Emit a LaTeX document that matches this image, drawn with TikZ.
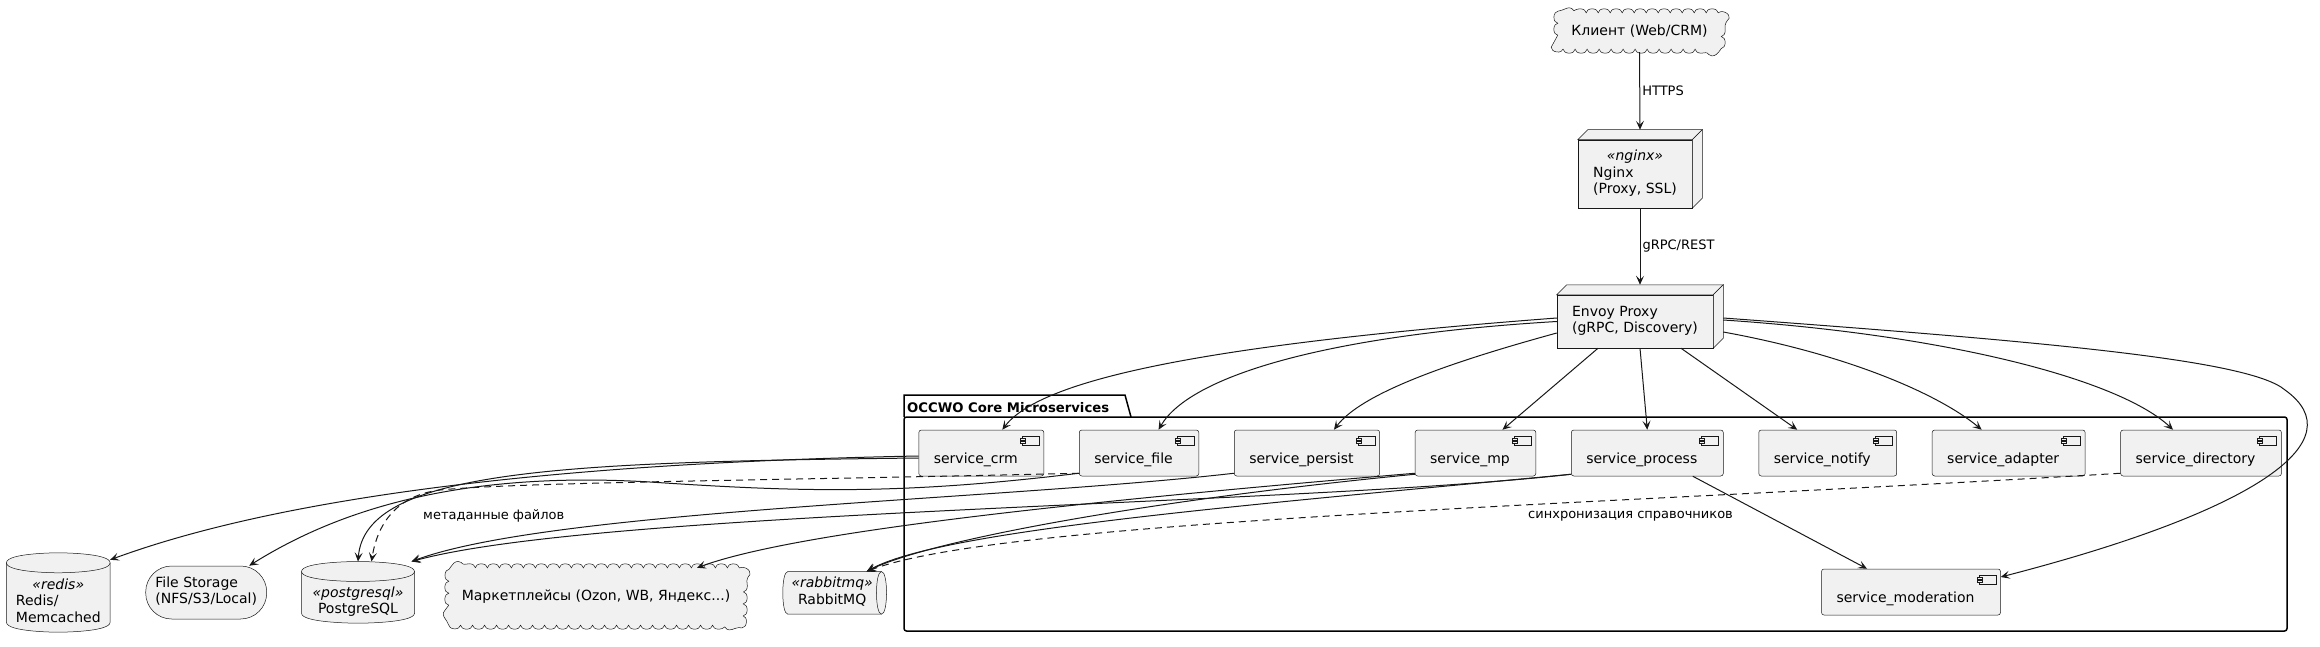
\documentclass[tikz,border=0pt]{standalone}
\usepackage{fontspec}
\setmainfont{DejaVu Sans}
\usepackage{tikz}
\usetikzlibrary{arrows.meta,calc,positioning,decorations.pathmorphing}
\definecolor{umlfill}{HTML}{F1F1F1}
\definecolor{umlline}{HTML}{181818}
\pgfdeclarelayer{bg}
\pgfsetlayers{bg,main}
\tikzset{
  txt/.style={font=\fontsize{14}{16.3}\selectfont},
  lbl/.style={font=\fontsize{13}{15}\selectfont, inner sep=2pt},
  shapeline/.style={draw=umlline, line width=0.5pt, fill=umlfill},
  comp/.style={shapeline, txt, rounded corners=2.5pt, minimum height=46pt, inner xsep=15pt,
    text height=23pt, text depth=3pt, execute at end node={\hspace*{11pt}}},
  boxnode/.style={shapeline, txt, inner sep=0pt},
  dbnode/.style={txt, inner sep=0pt},
  storenode/.style={shapeline, txt, inner sep=0pt, rounded corners=26pt},
  cloudnode/.style={txt, inner sep=0pt},
  puffs/.style={shapeline, decorate, decoration={bumps, segment length=24pt, amplitude=4pt}},
  pkgline/.style={draw=black, line width=1.5pt},
  link/.style={draw=umlline, line width=1pt, -{Stealth[length=9pt,width=8pt,inset=4pt]}},
  dlink/.style={link, dash pattern=on 7pt off 5pt}
}

\begin{document}
\begin{tikzpicture}[x=1pt,y=-1pt]
\useasboundingbox (0,0) rectangle (2320,647);

% package
\draw[pkgline] (904,417) -- (904,395) -- (1125,395) -- (1131,417);
\draw[pkgline, rounded corners=2.5pt] (904,417) rectangle (2287,631);
\node[anchor=base west, inner sep=0pt, font=\fontsize{13.2}{15}\selectfont\bfseries] (pkgname) at (907,412) {OCCWO Core Microservices};

% entry
\node[cloudnode, minimum width=163pt, minimum height=36pt] (client) at (1639.5,31) {Клиент (Web/CRM)};
\node[boxnode, minimum width=114pt, minimum height=68pt] (ngx) at (1635,174)
  {\begin{tabular}{@{}l@{}}\multicolumn{1}{@{}c@{}}{\textit{«nginx»}}\\Nginx\\(Proxy, SSL)\end{tabular}};
\node[boxnode, minimum width=156pt, minimum height=53pt] (envoy) at (1635,321.5)
  {\begin{tabular}{@{}l@{}}Envoy Proxy\\(gRPC, Discovery)\end{tabular}};

\foreach \n in {ngx,envoy}
  {
    \filldraw[shapeline] (\n.north west) -- ++(10,-10) -- ($(\n.north east)+(10,-10)$) -- (\n.north east) -- cycle;
    \filldraw[shapeline] (\n.north east) -- ($(\n.north east)+(10,-10)$) -- ($(\n.south east)+(10,-10)$) -- (\n.south east) -- cycle;
  }

% services
\node[comp] (crm) at (981.3,453) {service\_crm};
\node[comp, right=35pt of crm] (file) {service\_file};
\node[comp, right=35pt of file] (persist) {service\_persist};
\node[comp, right=35pt of persist] (mp) {service\_mp};
\node[comp, right=35pt of mp] (process) {service\_process};
\node[comp, right=35pt of process] (notify) {service\_notify};
\node[comp, right=35pt of notify] (adapter) {service\_adapter};
\node[comp, right=35pt of adapter] (directory) {service\_directory};
\node[comp] (moderation) at (1911,592) {service\_moderation};

\foreach \s in {crm,file,persist,mp,process,notify,adapter,directory,moderation}
  {
    \filldraw[shapeline] ($(\s.north east)+(-22,6)$) rectangle ($(\s.north east)+(-5,15)$);
    \filldraw[shapeline] ($(\s.north east)+(-24,8)$) rectangle ($(\s.north east)+(-19,10)$);
    \filldraw[shapeline] ($(\s.north east)+(-24,11.3)$) rectangle ($(\s.north east)+(-19,13.3)$);
  }

% storage and external
\node[dbnode, minimum width=103.3pt, minimum height=59pt] (redis) at (58.3,602.5)
  {\begin{tabular}{@{}l@{}}\multicolumn{1}{@{}c@{}}{\textit{«redis»}}\\Redis/\\Memcached\end{tabular}};
\node[storenode, minimum width=121pt, minimum height=53pt] (fs) at (206.2,592.5)
  {\begin{tabular}{@{}l@{}}File Storage\\(NFS/S3/Local)\end{tabular}};
\node[dbnode, minimum width=112.6pt, minimum height=41.3pt] (pg) at (358,602.35)
  {\begin{tabular}{@{}c@{}}\textit{«postgresql»}\\PostgreSQL\end{tabular}};
\node[cloudnode, minimum width=294pt, minimum height=57pt] (mkt) at (596,596.5)
  {Маркетплейсы (Ozon, WB, Яндекс...)};
\node[dbnode, minimum width=98.3pt, minimum height=42.3pt] (rmq) at (832.15,592.85)
  {\begin{tabular}{@{}c@{}}\textit{«rabbitmq»}\\RabbitMQ\end{tabular}};

\begin{pgfonlayer}{bg}
\foreach \n/\r in {client/14,mkt/20}
  {
    \filldraw[puffs] ($(\n.south west)+(0,-\r)$) -- ($(\n.north west)+(0,\r)$) .. controls (\n.north west) .. ($(\n.north west)+(\r,0)$)
      -- ($(\n.north east)+(-\r,0)$) .. controls (\n.north east) .. ($(\n.north east)+(0,\r)$)
      -- ($(\n.south east)+(0,-\r)$) .. controls (\n.south east) .. ($(\n.south east)+(-\r,0)$)
      -- ($(\n.south west)+(\r,0)$) .. controls (\n.south west) .. ($(\n.south west)+(0,-\r)$);
  }
\foreach \n in {redis,pg}
  {
    \filldraw[shapeline] ($(\n.north west)+(0,-10)$) .. controls ($(\n.north west)+(0,-20)$) and ($(\n.north)+(0,-20)$) .. ($(\n.north)+(0,-20)$)
      .. controls ($(\n.north)+(0,-20)$) and ($(\n.north east)+(0,-20)$) .. ($(\n.north east)+(0,-10)$)
      -- ($(\n.south east)+(0,-10)$) .. controls (\n.south east) and (\n.south) .. (\n.south)
      .. controls (\n.south) and (\n.south west) .. ($(\n.south west)+(0,-10)$) -- cycle;
    \draw[shapeline, fill=none] ($(\n.north west)+(0,-10)$) .. controls (\n.north west) and (\n.north) .. (\n.north)
      .. controls (\n.north) and (\n.north east) .. ($(\n.north east)+(0,-10)$);
  }
\foreach \n in {rmq}
  {
    \filldraw[shapeline] ($(\n.north west)+(5,0)$) -- (\n.north east)
      .. controls ($(\n.north east)+(6.7,0)$) and ($(\n.south east)+(6.7,0)$) .. (\n.south east)
      -- ($(\n.south west)+(5,0)$) .. controls ($(\n.south west)+(-1.7,0)$) and ($(\n.north west)+(-1.7,0)$) .. ($(\n.north west)+(5,0)$) -- cycle;
    \draw[shapeline, fill=none] (\n.north east) .. controls ($(\n.north east)+(-6.7,0)$) and ($(\n.south east)+(-6.7,0)$) .. (\n.south east);
  }
\end{pgfonlayer}

% entry links
\draw[link] ([yshift=-3pt]client.south) -- node[lbl, right] {HTTPS} ([shift={(5pt,10pt)}]ngx.north);
\draw[link] ([xshift=5pt]ngx.south) -- node[lbl, right] {gRPC/REST} ([shift={(5pt,10pt)}]envoy.north);

% envoy to services
\draw[link] ([yshift=3.5pt]envoy.west) .. controls (1200,345) and (1040,380) .. ([xshift=21pt]crm.north);
\draw[link] (envoy.west) .. controls (1330,335) and (1190,375) .. ([xshift=19.5pt]file.north);
\draw[link] ([yshift=-11.5pt]envoy.west) .. controls (1440,365) and (1360,395) .. ([xshift=27pt]persist.north);
\draw[link] ([xshift=-37pt]envoy.south) -- ([xshift=27pt]mp.north);
\draw[link] ([xshift=5pt]envoy.south) -- (process.north);
\draw[link] ([xshift=46pt]envoy.south) -- ([xshift=-30.5pt]notify.north);
\draw[link] ([shift={(10pt,-10.5pt)}]envoy.east) .. controls (1850,355) and (1940,395) .. ([xshift=-27pt]adapter.north);
\draw[link] ([shift={(10pt,1.5pt)}]envoy.east) .. controls (1950,335) and (2120,380) .. ([xshift=-28pt]directory.north);
\draw[link] ([shift={(10pt,3.5pt)}]envoy.east) .. controls (2050,342) and (2250,360) .. (2285,390)
  .. controls (2355,440) and (2260,510) .. ([yshift=15pt]moderation.east);
\draw[link] ([xshift=45.5pt]process.south) -- ([xshift=-44pt]moderation.north);

% services to storage
\draw[link] ([yshift=-3pt]crm.west) .. controls (600,462) and (300,490) .. ([yshift=13pt]redis.north east);
\draw[link] ([yshift=-5pt]crm.west) .. controls (560,462) and (365,470) .. ([yshift=20pt]pg.north);
\draw[dlink] ([yshift=3pt]file.south west) .. controls (800,480) and (520,482) .. (440,490)
  .. controls (400,495) and (378,520) .. ([shift={(13.5pt,20pt)}]pg.north);
\draw[link] ([yshift=3pt]file.south west) .. controls (900,495) and (800,492) .. (650,482)
  .. controls (450,470) and (330,515) .. ([xshift=43pt]fs.north);
\draw[link] ([yshift=3pt]persist.south west) .. controls (1000,500) and (550,510) .. ([shift={(-3pt,20pt)}]pg.north east);
\draw[link] ([yshift=2pt]process.south west) .. controls (1300,505) and (600,510) .. ([shift={(-3pt,20pt)}]pg.north east);
\draw[link] ([yshift=3pt]mp.south west) .. controls (1100,500) and (800,530) .. ([xshift=101pt]mkt.north);
\draw[link] ([yshift=2pt]mp.south west) .. controls (1150,500) and (930,540) .. ([xshift=34.5pt]rmq.north);
\draw[link] ([yshift=2pt]process.south west) .. controls (1250,505) and (940,530) .. ([xshift=34.5pt]rmq.north);
\draw[dlink] ([yshift=3pt]directory.south west) .. controls (1600,505) and (1000,520) .. ([xshift=34.5pt]rmq.north);

\node[lbl, anchor=west] (metalbl) at (421,516) {метаданные файлов};
\node[lbl, anchor=west] (synclbl) at (1526,516) {синхронизация справочников};

\end{tikzpicture}
\end{document}
